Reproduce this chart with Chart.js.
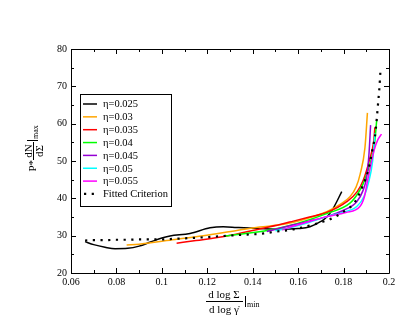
<!DOCTYPE html>
<html>
<head>
<meta charset="utf-8">
<script src="https://cdn.jsdelivr.net/npm/chart.js@4/dist/chart.umd.min.js"></script>
<style>
html,body{margin:0;padding:0;background:#fff;}
canvas{display:block;}
</style>
</head>
<body>
<canvas id="c" width="415" height="321" style="width:415px;height:321px"></canvas>
<script>
// ---- data ----
const labels = ["\u03b7=0.025","\u03b7=0.03","\u03b7=0.035","\u03b7=0.04","\u03b7=0.045","\u03b7=0.05","\u03b7=0.055","Fitted Criterion"];

const eta025X = [0.0662,0.070,0.075,0.0794,0.085,0.090,0.095,0.100,0.1036,0.1124,0.1212,0.127,0.133,0.143,0.152,0.160,0.1652,0.1700,0.1726,0.1755,0.1792];
const eta025Y = [28.4,27.6,26.9,26.5,26.6,27.2,28.3,29.4,29.9,30.6,32.1,32.4,32.2,31.9,31.7,31.9,32.4,33.8,35.0,37.4,41.8];

const eta030X = [0.0845,0.090,0.095,0.100,0.1036,0.1182,0.133,0.143,0.152,0.1579,0.1650,0.1726,0.1790,0.1828,0.1855,0.1873,0.1894,0.1905];
const eta030Y = [27.5,27.7,28.1,28.5,28.8,30.0,31.4,32.3,32.9,33.6,34.8,36.4,38.6,40.4,43.0,46.5,53.5,62.9];

const eta035X = [0.1065,0.115,0.1285,0.143,0.152,0.1579,0.1650,0.1726,0.1814,0.1860,0.1887,0.1915,0.1932,0.1938];
const eta035Y = [28.0,28.7,29.9,31.8,33.0,33.9,35.0,36.2,39.1,41.8,44.9,50.5,55.0,59.0];

const eta040X = [0.1278,0.1476,0.158,0.1650,0.1726,0.1828,0.1865,0.1887,0.192,0.1937,0.1946];
const eta040Y = [29.9,31.5,33.0,34.3,35.9,38.7,41.5,44.0,50.0,55.0,61.0];

const eta045X = [0.1462,0.158,0.1650,0.1726,0.1800,0.1858,0.1885,0.1902,0.1912,0.1919];
const eta045Y = [31.1,32.9,33.9,35.1,36.8,39.1,42.0,45.8,52.0,59.6];

const eta050X = [0.150,0.158,0.1650,0.1726,0.1800,0.1858,0.1890,0.1909,0.1928,0.1938];
const eta050Y = [31.3,32.4,33.6,35.1,36.3,37.8,40.5,44.0,50.0,57.4];

const eta055X = [0.153,0.158,0.1650,0.1726,0.1810,0.1872,0.1892,0.1905,0.1935,0.1950,0.1967];
const eta055Y = [31.5,32.6,33.8,35.1,36.2,37.8,40.5,44.5,53.0,55.6,57.2];

const fitX = [0.0662,0.070,0.075,0.080,0.085,0.090,0.095,0.100,0.1036,0.1168,0.1344,0.1432,0.1505,0.1579,0.1674,0.174,0.1799,0.1851,0.1886,0.1909,0.1927,0.1938,0.1945,0.1952,0.1957,0.1963];
const fitY = [28.7,28.8,28.8,28.9,28.9,29.0,29.0,29.0,29.1,29.5,30.2,30.5,31.1,31.7,33.1,34.4,36.4,39.1,43.6,47.6,53.0,56.5,60.5,65.5,69.0,74.8];

const xMajorTicks = [0.06,0.08,0.10,0.12,0.14,0.16,0.18,0.20];
const xMinorTicks = [0.07,0.09,0.11,0.13,0.15,0.17,0.19];
const yMajorTicks = [20,30,40,50,60,70,80];
const yMinorTicks = [25,35,45,55,65,75];

const colors = ["#000000","#ffa500","#ff0000","#00ff00","#9400d3","#00ffff","#ff00ff","#000000"];
const seriesX = [eta025X,eta030X,eta035X,eta040X,eta045X,eta050X,eta055X,fitX];
const seriesY = [eta025Y,eta030Y,eta035Y,eta040Y,eta045Y,eta050Y,eta055Y,fitY];

const SERIF = "'Liberation Serif','DejaVu Serif',serif";

const datasets = seriesX.map((xs,i)=>{
  const isFit = i === 7;
  return {
    label: labels[i],
    data: xs.map((x,k)=>({x:x, y:seriesY[i][k]})),
    borderColor: colors[i],
    backgroundColor: colors[i],
    borderWidth: isFit ? 2.2 : 1.5,
    borderDash: isFit ? [2.2,5.5] : [],
    borderCapStyle: 'butt',
    pointRadius: 0,
    showLine: true,
    fill: false,
    cubicInterpolationMode: 'monotone',
    order: 7 - i
  };
});

const framePlugin = {
  id: 'frame',
  afterDatasetsDraw(chart){
    const ctx = chart.ctx, a = chart.chartArea;
    const xs = chart.scales.x, ys = chart.scales.y;
    ctx.save();
    ctx.strokeStyle = '#000';
    ctx.lineWidth = 1;
    ctx.beginPath();
    ctx.rect(Math.round(a.left)+0.5, Math.round(a.top)+0.5, Math.round(a.right-a.left), Math.round(a.bottom-a.top));
    ctx.stroke();
    const tk = (v, len, isX)=>{
      if(isX){
        const p = Math.round(xs.getPixelForValue(v))+0.5;
        ctx.moveTo(p, a.bottom); ctx.lineTo(p, a.bottom-len);
        ctx.moveTo(p, a.top); ctx.lineTo(p, a.top+len);
      } else {
        const p = Math.round(ys.getPixelForValue(v))+0.5;
        ctx.moveTo(a.left, p); ctx.lineTo(a.left+len, p);
        ctx.moveTo(a.right, p); ctx.lineTo(a.right-len, p);
      }
    };
    ctx.beginPath();
    xMajorTicks.forEach(v=>tk(v,5,true));
    xMinorTicks.forEach(v=>tk(v,3,true));
    yMajorTicks.forEach(v=>tk(v,5,false));
    yMinorTicks.forEach(v=>tk(v,3,false));
    ctx.stroke();
    ctx.restore();
  },
  afterDraw(chart){
    const ctx = chart.ctx;
    ctx.save();
    // ---- legend ----
    const lx = 80, ly = 94, lw = 91, lh = 112;
    ctx.fillStyle = '#fff';
    ctx.fillRect(lx, ly, lw, lh);
    ctx.strokeStyle = '#000';
    ctx.lineWidth = 1;
    ctx.strokeRect(lx+0.5, ly+0.5, lw, lh);
    ctx.font = "10.5px " + SERIF;
    ctx.textBaseline = 'middle';
    ctx.textAlign = 'left';
    chart.data.datasets.forEach((ds,i)=>{
      const y = 104 + i*12.85;
      ctx.strokeStyle = ds.borderColor;
      ctx.lineWidth = ds.borderWidth;
      ctx.setLineDash(ds.borderDash || []);
      ctx.lineCap = 'butt';
      ctx.beginPath();
      if(i===7){ ctx.moveTo(84, y); ctx.lineTo(97, y); }
      else { ctx.moveTo(83, y); ctx.lineTo(97, y); }
      ctx.stroke();
      ctx.setLineDash([]);
      ctx.fillStyle = '#000';
      ctx.fillText(ds.label, 103, y+0.5);
    });

    // ---- x axis title: d log Σ / d log γ̇ |min ----
    ctx.fillStyle = '#000';
    ctx.strokeStyle = '#000';
    ctx.lineWidth = 1;
    const cx = 224;
    ctx.font = "11px " + SERIF;
    ctx.textAlign = 'center';
    ctx.textBaseline = 'alphabetic';
    ctx.fillText("d log \u03a3", cx, 298);
    ctx.beginPath(); ctx.moveTo(cx-18, 301.5); ctx.lineTo(cx+19, 301.5); ctx.stroke();
    ctx.fillText("d log \u03b3\u0307", cx, 313);
    ctx.textAlign = 'left';
    ctx.beginPath(); ctx.moveTo(cx+21.5, 296); ctx.lineTo(cx+21.5, 307); ctx.stroke();
    ctx.font = "8px " + SERIF;
    ctx.fillText("min", cx+23, 307);

    // ---- y axis title: P* dN/dΣ |max (rotated) ----
    ctx.translate(33, 150);
    ctx.rotate(-Math.PI/2);
    ctx.font = "11px " + SERIF;
    ctx.textAlign = 'right';
    ctx.textBaseline = 'middle';
    ctx.fillText("P*", -10, 0.5);
    ctx.textAlign = 'center';
    ctx.textBaseline = 'alphabetic';
    ctx.fillText("dN", -1, -1.5);
    ctx.beginPath(); ctx.moveTo(-10, 0.5); ctx.lineTo(8, 0.5); ctx.stroke();
    ctx.fillText("d\u03a3", -1, 10);
    ctx.beginPath(); ctx.moveTo(9.5, -6); ctx.lineTo(9.5, 5); ctx.stroke();
    ctx.textAlign = 'left';
    ctx.font = "8px " + SERIF;
    ctx.fillText("max", 11, 5);
    ctx.restore();
  }
};

new Chart(document.getElementById('c'), {
  type: 'scatter',
  data: { datasets: datasets },
  options: {
    responsive: false,
    animation: false,
    devicePixelRatio: 1,
    layout: { padding: { left: 41, right: 26, top: 49, bottom: 28 } },
    plugins: { legend: { display: false }, tooltip: { enabled: false } },
    scales: {
      x: {
        type: 'linear', min: 0.06, max: 0.2,
        grid: { display: false, drawTicks: false },
        border: { display: false },
        ticks: {
          stepSize: 0.02, padding: 3, color: '#000', maxRotation: 0,
          font: { family: SERIF, size: 10 },
          callback: v => String(Number(v.toFixed(2)))
        },
        afterFit: s => { s.height = 20; }
      },
      y: {
        type: 'linear', min: 20, max: 80,
        grid: { display: false, drawTicks: false },
        border: { display: false },
        ticks: {
          stepSize: 10, padding: 4, color: '#000',
          font: { family: SERIF, size: 10 }
        },
        afterFit: s => { s.width = 30; }
      }
    }
  },
  plugins: [framePlugin]
});
</script>
</body>
</html>
